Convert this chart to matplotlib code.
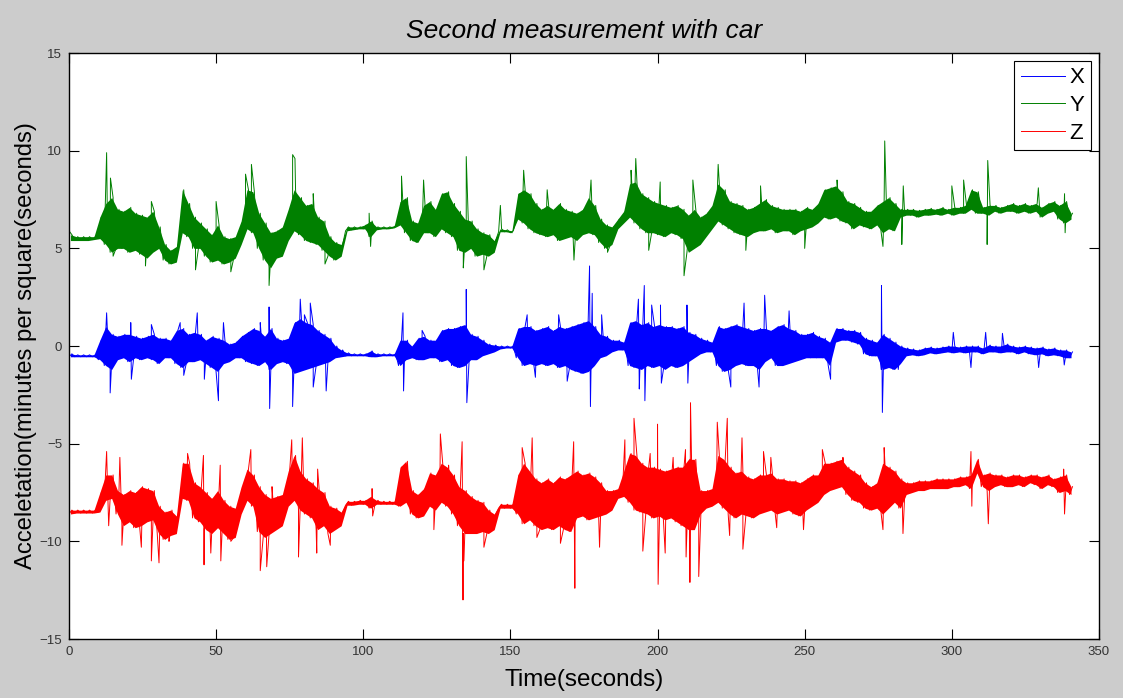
import matplotlib.pyplot as plt
import numpy as np

# envelope of each trace, one (low, high) pair every 2 s
t_bins = np.arange(0, 341, 2)

y_lo = [5.4, 5.4, 5.4, 5.4, 5.45, 5.5, 5.2, 4.8, 5.0, 5.0, 4.8, 4.9, 4.7, 4.5, 4.8, 5.0, 4.4, 4.2, 4.3, 5.8,
        5.6, 5.0, 5.0, 4.6, 4.3, 4.4, 4.2, 4.3, 4.5, 5.2, 6.0, 5.8, 5.0, 4.4, 4.0, 4.5, 4.6, 5.4, 5.9, 5.7,
        5.4, 5.3, 5.2, 4.9, 4.6, 4.4, 4.6, 5.9, 5.95, 6.0, 6.0, 5.6, 5.95, 6.0, 6.0, 6.05, 6.2, 5.8, 5.4, 5.3,
        5.8, 5.8, 5.6, 6.0, 5.8, 5.6, 4.9, 4.8, 5.0, 4.6, 4.7, 4.6, 4.8, 5.85, 5.85, 5.8, 6.5, 6.3, 6.0, 5.8,
        5.7, 5.6, 5.7, 5.4, 5.5, 5.6, 5.4, 5.7, 5.8, 5.7, 5.3, 5.0, 5.2, 6.0, 6.3, 6.6, 6.3, 6.0, 5.8, 5.8,
        5.7, 5.6, 5.8, 5.7, 5.5, 4.8, 5.0, 5.2, 5.6, 6.0, 6.4, 6.2, 6.0, 5.8, 5.7, 5.6, 5.8, 5.9, 5.9, 6.0,
        5.8, 5.9, 5.9, 5.7, 5.9, 6.0, 6.1, 6.3, 6.6, 6.5, 6.6, 6.4, 6.3, 6.0, 6.2, 6.1, 6.0, 6.2, 5.8, 6.0,
        5.9, 6.6, 6.7, 6.7, 6.6, 6.7, 6.7, 6.75, 6.7, 6.8, 6.7, 6.8, 6.8, 7.0, 6.8, 6.8, 6.7, 6.9, 6.8, 6.9,
        6.9, 6.8, 6.9, 6.8, 6.9, 6.6, 6.8, 6.9, 6.5, 6.3, 6.5]
y_hi = [5.7, 5.6, 5.6, 5.6, 5.6, 6.6, 7.3, 7.6, 7.0, 6.9, 7.1, 6.8, 6.7, 6.6, 6.9, 6.1, 5.2, 4.9, 5.1, 8.0,
        7.3, 6.6, 6.3, 6.0, 5.7, 6.2, 5.6, 5.5, 5.6, 6.4, 8.0, 7.9, 6.8, 6.3, 5.8, 5.9, 6.1, 7.0, 8.0, 7.6,
        7.2, 7.3, 6.6, 6.4, 5.6, 5.3, 5.2, 6.1, 6.1, 6.1, 6.2, 6.4, 6.1, 6.1, 6.1, 6.15, 7.4, 7.6, 6.4, 6.3,
        7.2, 7.4, 7.0, 7.8, 7.9, 7.3, 6.9, 6.5, 6.4, 6.0, 5.8, 5.7, 5.4, 6.0, 5.95, 5.9, 7.8, 8.0, 7.8, 7.3,
        7.0, 7.2, 7.0, 7.3, 7.0, 6.9, 6.8, 7.0, 7.6, 7.2, 6.5, 6.2, 6.1, 6.5, 6.9, 8.3, 8.4, 7.8, 7.6, 7.4,
        7.3, 7.2, 7.1, 7.2, 7.0, 6.7, 7.0, 6.6, 6.8, 7.2, 8.3, 8.0, 7.4, 7.3, 7.2, 7.0, 7.1, 7.3, 7.5, 7.2,
        7.1, 7.0, 7.0, 7.0, 6.9, 7.1, 7.0, 7.3, 8.0, 8.1, 8.2, 7.9, 7.4, 7.3, 7.1, 6.9, 6.9, 7.2, 7.4, 7.6,
        7.3, 7.0, 7.0, 7.0, 6.95, 7.0, 7.05, 7.0, 7.1, 7.0, 7.1, 7.1, 7.2, 8.0, 7.9, 7.1, 7.2, 7.2, 7.1, 7.2,
        7.3, 7.2, 7.3, 7.2, 7.3, 7.1, 7.3, 7.4, 7.2, 7.4, 6.8]
y_spike_t = [0, 12.8, 14.1, 15, 26, 28, 43, 50, 55, 60, 62, 68, 76, 76.8, 83, 87, 102, 102.5, 113, 120.5,
             134, 135, 141, 146.6, 154.5, 162.5, 171.6, 177.4, 183, 191, 192.6, 197, 200.9, 209, 212, 220.6,
             230, 235, 250, 261, 276.6, 277.2, 283, 283.5, 300, 304, 312, 312.2, 329.4, 338.3, 338.5]
y_spike_v = [5.9, 9.9, 8.6, 4.6, 4.1, 7.4, 3.9, 7.4, 3.8, 8.8, 9.3, 3.1, 9.8, 9.6, 7.8, 4.2, 6.8, 5.1, 8.7, 8.5,
             4.0, 9.7, 3.9, 7.2, 9.0, 8.0, 4.4, 8.5, 4.8, 9.0, 9.6, 4.9, 8.4, 3.6, 8.5, 9.3,
             4.9, 8.2, 5.0, 8.5, 5.1, 10.5, 5.2, 8.2, 8.2, 8.5, 5.2, 9.5, 8.1, 7.8, 5.8]

x_lo = [-0.55, -0.55, -0.55, -0.55, -0.55, -0.7, -1.0, -1.2, -0.7, -0.6, -0.8, -0.6, -0.7, -0.6, -0.7, -0.9, -0.6, -0.6, -0.9, -1.1,
        -0.8, -0.8, -0.7, -0.9, -1.1, -1.3, -0.9, -0.8, -0.6, -0.6, -0.8, -0.9, -1.0, -0.8, -1.2, -0.9, -0.8, -0.9, -1.4, -1.3,
        -1.2, -1.1, -1.0, -0.9, -0.8, -0.6, -0.55, -0.5, -0.5, -0.5, -0.5, -0.55, -0.55, -0.5, -0.5, -0.5, -1.0, -0.7, -0.6, -0.7,
        -0.7, -0.6, -0.6, -0.8, -0.7, -1.0, -1.1, -1.0, -0.7, -0.7, -0.5, -0.4, -0.3, -0.15, -0.1, -0.1, -0.6, -1.0, -0.9, -1.0,
        -0.9, -1.0, -0.9, -1.1, -1.0, -1.2, -1.3, -1.4, -1.3, -1.0, -0.6, -0.5, -0.3, -0.2, -0.2, -1.0, -1.1, -1.2, -1.0, -1.1,
        -1.0, -1.2, -1.0, -1.1, -1.0, -0.8, -0.6, -0.4, -0.3, -0.3, -1.0, -1.3, -1.2, -1.0, -0.9, -1.0, -1.0, -1.2, -0.8, -0.6,
        -1.0, -1.0, -0.9, -0.8, -0.7, -0.6, -0.6, -0.6, -0.6, -1.0, 0.2, 0.3, 0.3, 0.2, 0.1, -0.4, -0.5, -0.5, -1.2, -1.1,
        -1.2, -0.9, -0.5, -0.45, -0.5, -0.45, -0.35, -0.4, -0.35, -0.3, -0.35, -0.3, -0.35, -0.3, -0.3, -0.4, -0.3, -0.3, -0.35, -0.3,
        -0.3, -0.4, -0.3, -0.4, -0.45, -0.4, -0.5, -0.45, -0.5, -0.6, -0.6]
x_hi = [-0.4, -0.45, -0.45, -0.45, -0.45, 0.3, 1.0, 0.6, 0.5, 0.6, 0.6, 0.5, 0.4, 0.5, 0.6, 0.4, 0.4, 0.3, 0.8, 0.9,
        0.6, 0.7, 0.6, 0.3, 0.5, 0.4, 0.3, 0.1, 0.2, 0.5, 0.7, 0.9, 0.8, 0.5, 0.9, 0.4, 0.3, 0.4, 1.2, 1.4,
        1.2, 1.1, 0.8, 0.6, 0.4, 0.0, -0.2, -0.35, -0.4, -0.4, -0.4, -0.25, -0.4, -0.4, -0.4, -0.4, 0.3, 0.3, 0.0, 0.4,
        0.5, 0.3, 0.3, 0.8, 0.9, 0.9, 1.0, 1.1, 0.6, 0.5, 0.3, 0.1, 0.05, 0.0, 0.0, 0.0, 0.9, 1.0, 1.0, 0.8,
        0.9, 1.0, 0.8, 1.0, 0.9, 1.0, 1.1, 1.2, 1.3, 1.0, 0.6, 0.5, 0.3, 0.3, 0.2, 1.2, 1.3, 1.1, 1.2, 1.0,
        1.1, 1.0, 1.0, 0.9, 1.0, 0.7, 0.6, 0.4, 0.3, 0.2, 1.0, 0.9, 1.0, 1.1, 1.0, 0.9, 0.8, 0.9, 0.9, 0.8,
        1.0, 1.1, 0.9, 0.8, 0.6, 0.6, 0.7, 0.5, 0.4, 0.2, 0.9, 0.9, 0.8, 0.8, 0.7, 0.4, 0.3, 0.2, 0.6, 0.4,
        0.2, 0.0, -0.1, -0.15, -0.2, -0.1, -0.05, -0.1, -0.05, 0.0, 0.0, -0.05, 0.0, 0.0, 0.0, -0.1, 0.05, 0.0, 0.0, 0.1,
        0.0, -0.05, 0.0, -0.05, -0.1, -0.05, -0.15, -0.1, -0.2, -0.2, -0.3]
x_spike_t = [12.8, 14, 21, 21.2, 28, 37.8, 39, 43.6, 46, 50.8, 52.5, 65, 68, 68.2, 76, 78.6, 80, 82, 83, 87.4,
             113.5, 113.7, 120, 135, 135.2, 155.7, 158.5, 166.4, 169.3, 176.9, 177.2, 177.8, 181, 193.5, 193.8,
             195.5, 195.7, 198, 201, 201.3, 210, 210.3, 224.9, 229.4, 234.5, 236.4, 244.7, 258.8, 276.1, 276.4,
             281.8, 300.5, 306.5, 311.5, 317.2, 329.5, 338.2]
x_spike_v = [1.7, -2.4, 1.2, -1.7, 1.1, 1.2, -1.5, 1.7, -1.7, -2.8, 1.2, 1.2, 2.0, -3.2, -3.1, 2.4, 1.6, 2.2, -2.1, -2.3,
             1.7, -2.3, 0.8, 2.9, -2.9, 1.6, -1.6, 1.6, -1.8, 4.1, -3.1, 2.7, 1.6, 2.4, -2.2,
             3.1, -2.8, 2.1, 2.1, -1.9, 2.1, -1.9, -2.1, 2.2, -2.1, 2.6, 1.8, -1.7, 3.1, -3.4,
             -1.2, 0.7, -1.1, 0.7, 0.65, -1.1, -0.97]

z_lo = [-8.6, -8.55, -8.55, -8.55, -8.55, -8.5, -7.9, -7.8, -8.6, -9.2, -9.0, -9.3, -9.2, -9.0, -8.9, -9.6, -9.9, -9.7, -9.6, -7.8,
        -7.9, -8.8, -9.0, -9.4, -9.6, -9.3, -9.6, -9.9, -9.8, -8.6, -7.9, -8.2, -9.5, -9.8, -9.6, -9.4, -9.2, -8.2, -7.9, -8.4,
        -8.6, -8.8, -9.4, -9.2, -9.6, -9.4, -9.2, -8.15, -8.15, -8.1, -8.1, -8.3, -8.1, -8.1, -8.1, -8.1, -8.2, -8.0, -8.6, -8.8,
        -8.7, -8.2, -8.4, -8.0, -8.2, -8.6, -9.2, -9.6, -9.6, -9.6, -9.5, -9.6, -9.4, -8.3, -8.3, -8.3, -8.6, -9.1, -8.9, -9.2,
        -9.4, -9.3, -9.4, -9.2, -9.4, -9.5, -8.8, -8.7, -8.9, -8.8, -8.7, -8.6, -8.4, -7.8, -7.7, -8.0, -8.4, -8.5, -8.6, -8.8,
        -8.7, -8.9, -8.8, -9.0, -9.2, -9.4, -9.4, -8.6, -8.3, -8.2, -8.0, -8.3, -8.6, -8.8, -8.6, -8.7, -8.8, -8.6, -8.5, -8.4,
        -8.6, -8.5, -8.4, -8.6, -8.7, -8.4, -8.2, -8.0, -7.6, -7.4, -7.3, -7.2, -7.6, -7.9, -8.0, -8.3, -8.4, -8.3, -8.6, -8.3,
        -8.0, -8.3, -7.6, -7.5, -7.4, -7.4, -7.3, -7.3, -7.3, -7.3, -7.2, -7.2, -7.1, -7.3, -6.5, -7.2, -7.4, -7.2, -7.1, -7.2,
        -7.2, -7.1, -7.2, -7.0, -7.1, -7.3, -7.1, -7.2, -7.5, -7.4, -7.6]
z_hi = [-8.4, -8.4, -8.4, -8.4, -8.4, -7.5, -6.6, -6.6, -7.4, -7.6, -7.4, -7.5, -7.2, -7.3, -7.4, -8.2, -8.5, -8.4, -8.7, -6.0,
        -6.0, -7.0, -7.2, -7.5, -7.8, -7.4, -7.9, -8.2, -8.3, -7.2, -6.3, -6.6, -7.2, -7.6, -7.8, -7.7, -7.6, -6.4, -5.6, -6.4,
        -6.8, -7.0, -7.3, -7.5, -8.2, -8.3, -8.5, -7.95, -7.95, -7.9, -7.9, -7.7, -7.9, -7.95, -7.95, -7.95, -6.2, -5.9, -7.4, -7.6,
        -7.3, -6.5, -6.6, -6.0, -6.2, -6.6, -7.2, -7.4, -7.7, -7.9, -8.0, -8.4, -8.6, -8.1, -8.1, -8.1, -6.6, -6.0, -6.4, -6.8,
        -7.0, -6.8, -7.0, -6.7, -6.8, -6.6, -6.4, -6.6, -6.5, -6.7, -7.0, -7.4, -7.4, -7.3, -6.4, -5.5, -5.6, -6.0, -6.2, -6.2,
        -6.3, -6.4, -6.3, -6.2, -6.2, -5.8, -5.8, -7.4, -7.4, -7.3, -5.6, -5.8, -6.2, -6.5, -6.4, -6.7, -6.8, -6.6, -6.6, -6.5,
        -6.8, -6.8, -6.9, -6.9, -7.0, -6.8, -6.6, -6.6, -6.0, -6.0, -5.9, -5.8, -6.2, -6.4, -6.6, -7.0, -7.2, -7.0, -6.0, -6.2,
        -6.4, -6.8, -7.0, -7.0, -6.9, -6.9, -6.9, -6.8, -6.8, -6.8, -6.8, -6.7, -6.7, -6.6, -5.8, -6.6, -6.5, -6.6, -6.6, -6.7,
        -6.6, -6.6, -6.7, -6.6, -6.6, -6.7, -6.6, -6.8, -6.7, -6.6, -7.2]
z_spike_t = [12.8, 13.5, 17.3, 18, 24.6, 28, 30.6, 34, 40.3, 45.7, 45.9, 48.2, 51.4, 51.6, 55, 61.8, 65, 67.2, 69,
             75.7, 78, 79.3, 84.2, 84.5, 88.8, 103, 103.2, 124, 126.2, 129, 133.6, 133.9, 134.2, 141, 154, 157.4,
             159, 167, 171.5, 171.9, 180.3, 188.9, 192, 195, 197.5, 200, 200.2, 202.6, 205.3, 209.5, 209.7, 211,
             211.2, 214, 220.3, 223.7, 224.5, 228.7, 229, 236, 238.5, 240.5, 249.6, 256, 263, 276.6, 277, 283.4,
             306.5, 306.8, 312.4, 338, 338.3]
z_spike_v = [-5.4, -9.2, -5.7, -10.2, -10.3, -11.0, -11.1, -10.0, -5.5, -5.6, -11.2, -10.6, -6.1, -11.0, -10.0, -5.3, -11.5, -11.3, -7.2,
             -4.8, -10.8, -4.7, -10.6, -6.3, -10.2, -7.3, -8.7, -9.4, -4.5, -6.1, -4.9, -13.0, -11.0, -10.3, -5.2, -4.7,
             -9.8, -10.1, -4.9, -12.4, -10.3, -4.8, -3.7, -10.5, -5.5, -4.0, -12.2, -10.6, -5.7, -5.3, -10.8, -12.1,
             -2.9, -11.8, -3.9, -3.7, -9.7, -4.7, -10.4, -5.4, -5.7, -9.3, -9.4, -5.3, -5.7, -9.4, -5.2, -9.6,
             -5.4, -8.2, -9.1, -6.3, -8.6]


def build_trace(lo, hi, spike_t, spike_v):
    # low value at the start of each bin, high value one second later, spikes in between
    t = np.concatenate([t_bins, t_bins + 1.0, spike_t])
    v = np.concatenate([lo, hi, spike_v])
    order = np.argsort(t, kind="stable")
    return t[order], v[order]


plt.rcParams['font.family'] = ['Liberation Sans', 'DejaVu Sans']

fig = plt.figure(figsize=(11.23, 6.98), dpi=100, facecolor='#cccccc')
ax = fig.add_axes([0.0614, 0.0845, 0.9172, 0.8395])

series = [("X", (0, 0, 1), x_lo, x_hi, x_spike_t, x_spike_v),
          ("Y", (0, 0.5, 0), y_lo, y_hi, y_spike_t, y_spike_v),
          ("Z", (1, 0, 0), z_lo, z_hi, z_spike_t, z_spike_v)]

for name, col, lo, hi, st, sv in series:
    # dense core of the signal
    ax.fill_between(t_bins + 0.5, lo, hi, color=col, lw=0)
    t, v = build_trace(lo, hi, st, sv)
    ax.plot(t, v, color=col, lw=0.7, label=name)

ax.set_xlim(0, 350)
ax.set_ylim(-15, 15)
ax.set_xticks(np.arange(0, 351, 50))
ax.set_yticks(np.arange(-15, 16, 5))
ax.tick_params(direction='in', length=7, width=0.8, top=True, right=True,
               labelsize=9.5, labelcolor='#333333', pad=5)
for s in ax.spines.values():
    s.set_linewidth(1.0)

ax.set_title("Second measurement with car", fontsize=19, style='italic', pad=11)
ax.set_xlabel("Time(seconds)", fontsize=17.5, labelpad=8)
ax.set_ylabel("Acceletation(minutes per square(seconds)", fontsize=17.2, labelpad=2)

leg = ax.legend(loc='upper right', fontsize=16, fancybox=False, framealpha=1,
                edgecolor='black', handlelength=2.0, handletextpad=0.2,
                borderaxespad=0.35, labelspacing=0.3, borderpad=0.3)
leg.get_frame().set_linewidth(0.8)

plt.savefig("out.png", dpi=100, facecolor=fig.get_facecolor())
plt.close()
